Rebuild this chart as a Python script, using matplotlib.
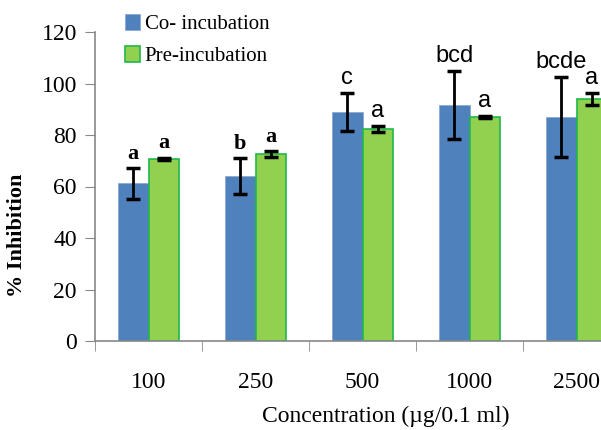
import numpy as np
import matplotlib
matplotlib.use("Agg")
import matplotlib.pyplot as plt

concentrations = ["100", "250", "500", "1000", "2500"]
co_incubation = [61.2, 64.0, 89.0, 91.6, 87.0]
co_err = [6.0, 7.0, 7.3, 13.3, 15.5]
pre_incubation = [70.7, 72.6, 82.3, 87.0, 94.0]
pre_err = [0.5, 1.0, 1.2, 0.5, 2.3]
co_letters = ["a", "b", "c", "bcd", "bcde"]
pre_letters = ["a", "a", "a", "a", "a"]

plt.rcParams['font.family'] = ['Liberation Serif', 'DejaVu Serif']

fig = plt.figure(figsize=(6.01, 4.30), dpi=100)
ax = fig.add_axes([95/601, 89/430, 535/601, 309/430])

x = np.arange(len(concentrations))
w = 0.285

ax.bar(x - w/2, co_incubation, w, color='#4F81BD', edgecolor='#8EA9D3', linewidth=0.6,
       label='Co- incubation', zorder=2)
ax.bar(x + w/2, pre_incubation, w, color='#92D050', edgecolor='#1FB84A', linewidth=1.2,
       label='Pre-incubation', zorder=2)
ax.errorbar(x - w/2, co_incubation, yerr=co_err, fmt='none', ecolor='black',
            elinewidth=2, capsize=5, capthick=2.5, zorder=3)
ax.errorbar(x + w/2, pre_incubation, yerr=pre_err, fmt='none', ecolor='black',
            elinewidth=2, capsize=5, capthick=2.5, zorder=3)

# first two groups: bold serif letters, the rest look like plain sans
for i in range(len(x)):
    if i < 2:
        kw = dict(fontsize=16, fontweight='bold')
    else:
        kw = dict(fontsize=17, family=['Liberation Sans', 'DejaVu Sans'])
    ax.annotate(co_letters[i], (x[i] - w/2, co_incubation[i] + co_err[i]),
                xytext=(0, 3), textcoords='offset points', ha='center', va='bottom', **kw)
    ax.annotate(pre_letters[i], (x[i] + w/2, pre_incubation[i] + pre_err[i]),
                xytext=(0, 3), textcoords='offset points', ha='center', va='bottom', **kw)

ax.set_xlim(-0.5, len(x) - 0.5)
ax.set_ylim(0, 120)
ax.set_yticks(range(0, 121, 20))
ax.set_xticks(x)
ax.set_xticklabels(concentrations)
ax.set_xticks(np.arange(-0.5, len(x), 1.0), minor=True)
ax.tick_params(axis='x', which='major', length=0, pad=22, labelsize=17)
ax.tick_params(axis='x', which='minor', length=7, color='#888888', direction='out')
ax.tick_params(axis='y', length=7, color='#888888', labelsize=17, pad=6)

for s in ['top', 'right']:
    ax.spines[s].set_visible(False)
for s in ['left', 'bottom']:
    ax.spines[s].set_color('#888888')
    ax.spines[s].set_linewidth(1.2)

ax.set_ylabel('% Inhibition', fontsize=16, fontweight='bold')
ax.yaxis.set_label_coords(-68/535, (341 - 235)/309)
fig.text(386/601, 1 - 416/430, 'Concentration (µg/0.1 ml)', ha='center', va='center', fontsize=17)

ax.legend(loc='upper left', bbox_to_anchor=(0.04, 1.085), frameon=False, fontsize=15,
          handlelength=0.75, handleheight=0.8, handletextpad=0.2, labelspacing=0.55,
          borderaxespad=0)

fig.savefig('out.png', dpi=100)
